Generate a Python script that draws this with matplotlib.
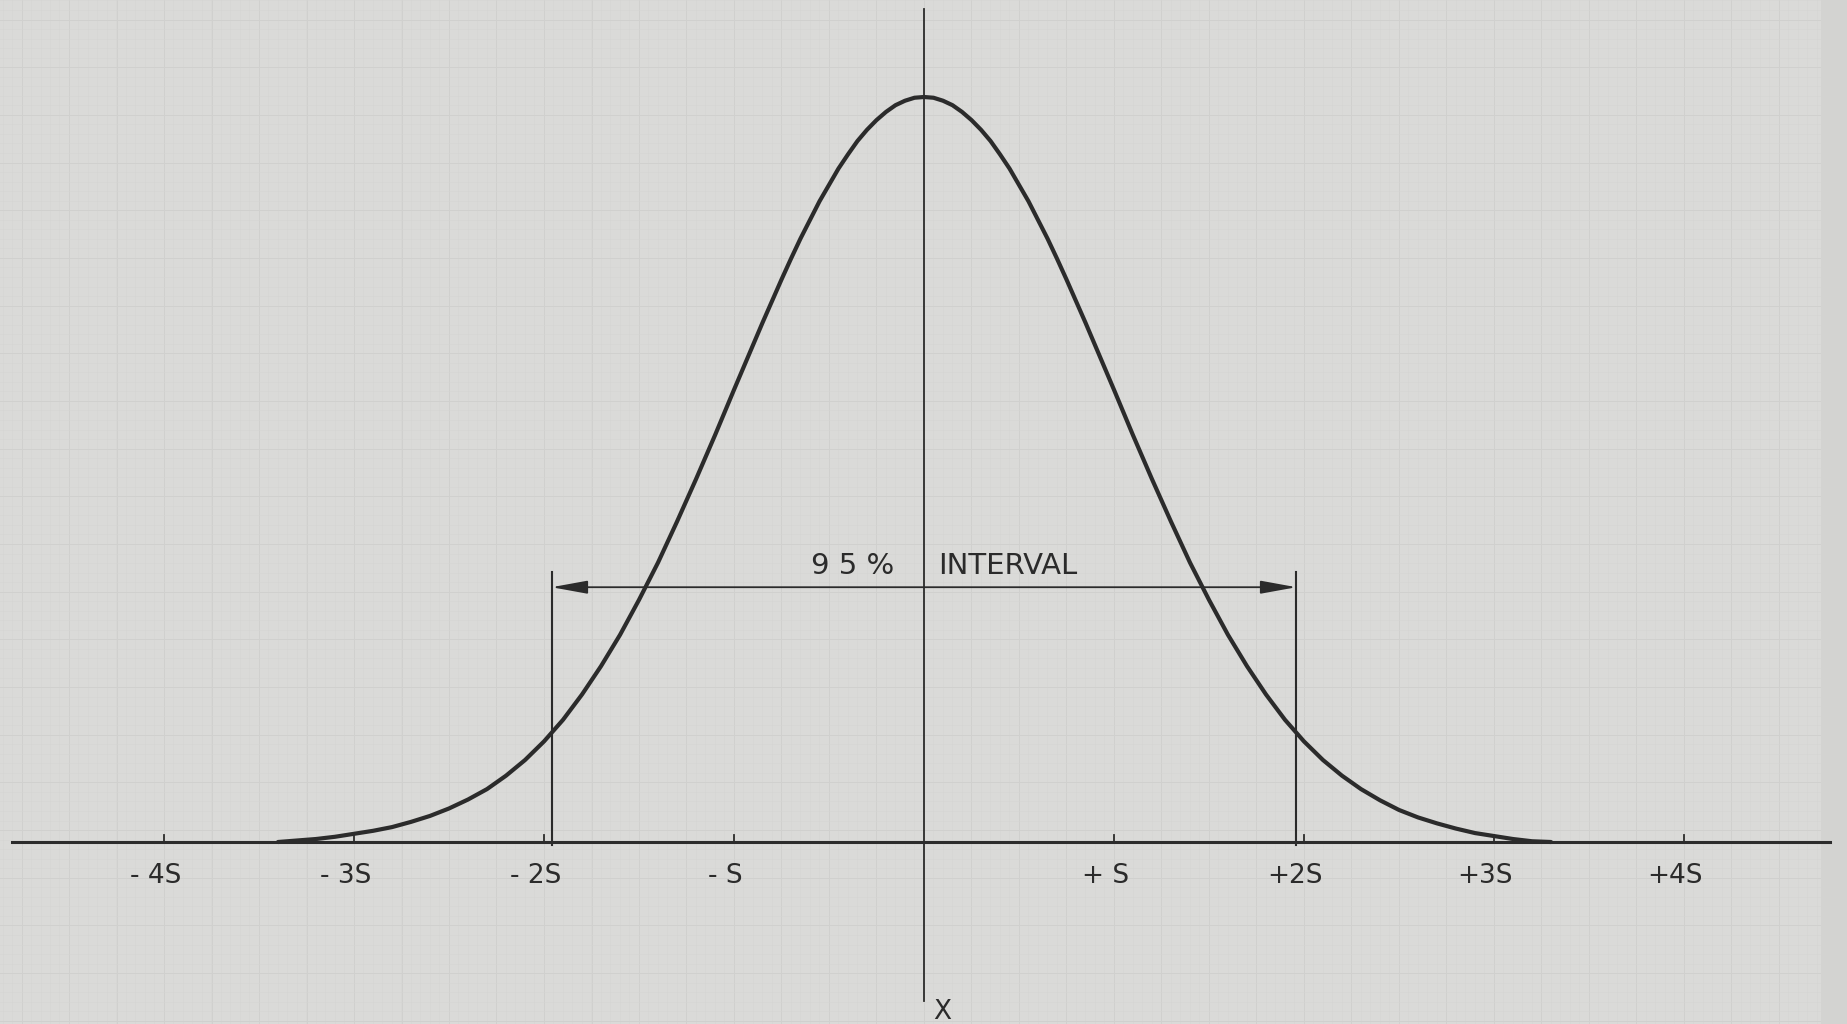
"""Normal curve with 95% interval, redrawn from a scanned sheet of graph paper."""
import numpy as np
import matplotlib.pyplot as plt

# curve: position in units of S, height relative to the peak
curve_x = [-3.4, -3.3, -3.2, -3.1, -3.0, -2.9, -2.8, -2.7, -2.6, -2.5, -2.4, -2.3,
           -2.2, -2.1, -2.0, -1.9, -1.8, -1.7, -1.6, -1.5, -1.4, -1.3, -1.2, -1.1,
           -1.0, -0.95, -0.9, -0.85, -0.8, -0.75, -0.7, -0.65, -0.6, -0.55, -0.5,
           -0.45, -0.4, -0.35, -0.3, -0.25, -0.2, -0.15, -0.1, -0.05, 0.0,
           0.05, 0.1, 0.15, 0.2, 0.25, 0.3, 0.35, 0.4, 0.45, 0.5, 0.55, 0.6, 0.65,
           0.7, 0.75, 0.8, 0.85, 0.9, 0.95, 1.0,
           1.1, 1.2, 1.3, 1.4, 1.5, 1.6, 1.7, 1.8, 1.9, 2.0, 2.1, 2.2, 2.3, 2.4,
           2.5, 2.6, 2.7, 2.8, 2.9, 3.0, 3.1, 3.2, 3.3]
curve_y = [0.000, 0.002, 0.004, 0.007, 0.011, 0.015, 0.020, 0.027, 0.035, 0.045, 0.057, 0.071,
           0.089, 0.110, 0.135, 0.164, 0.198, 0.236, 0.278, 0.325, 0.375, 0.430, 0.487, 0.546,
           0.607, 0.637, 0.667, 0.697, 0.726, 0.755, 0.783, 0.810, 0.835, 0.860, 0.882,
           0.904, 0.923, 0.941, 0.956, 0.969, 0.980, 0.989, 0.995, 0.999, 1.000,
           0.999, 0.995, 0.989, 0.980, 0.969, 0.956, 0.941, 0.923, 0.904, 0.882, 0.860, 0.835, 0.810,
           0.783, 0.755, 0.726, 0.697, 0.667, 0.637, 0.607,
           0.546, 0.487, 0.430, 0.375, 0.325, 0.278, 0.236, 0.198, 0.164, 0.135, 0.110, 0.089, 0.071, 0.056,
           0.043, 0.033, 0.025, 0.018, 0.012, 0.008, 0.004, 0.001, 0.000]

tick_pos = [-4, -3, -2, -1, 1, 2, 3, 4]
tick_labels = ['- 4S', '- 3S', '- 2S', '- S', '+ S', '+2S', '+3S', '+4S']

interval = [-1.96, 1.96]
interval_top = 0.362
arrow_y = 0.342

INK = '#2b2b2b'
PAPER = '#dadad8'

fig = plt.figure(figsize=(18.47, 10.24), dpi=100)
fig.patch.set_facecolor(PAPER)
ax = fig.add_axes([0, 0, 1, 1])
ax.set_facecolor(PAPER)
ax.set_xlim(-924 / 190, 923 / 190)
ax.set_ylim(-182 / 745, 842 / 745)
ax.axis('off')

# faint graph-paper ruling
for gx in np.arange(-4.85, 4.9, 0.05):
    ax.axvline(gx, color='#d5d5d3', lw=0.4, zorder=0)
for gx in np.arange(-4.75, 4.9, 0.25):
    ax.axvline(gx, color='#d0d0ce', lw=0.7, zorder=0)
for gy in np.arange(-0.24, 1.14, 0.0128):
    ax.axhline(gy, color='#d5d5d3', lw=0.4, zorder=0)
for gy in np.arange(-0.24, 1.14, 0.064):
    ax.axhline(gy, color='#d0d0ce', lw=0.7, zorder=0)
# slightly darker edge of the sheet on the right
ax.axvspan(4.72, 4.9, color='#d3d3d1', lw=0, zorder=0.5)

# axes drawn on the sheet
ax.plot([-4.8, 4.77], [0, 0], color=INK, lw=2.2, zorder=2)
ax.plot([0, 0], [-0.213, 1.118], color=INK, lw=1.3, zorder=2)
for p, lab in zip(tick_pos, tick_labels):
    ax.plot([p, p], [0, 0.009], color=INK, lw=1.3, zorder=2)
    ax.text(p - 0.045, -0.046, lab, ha='center', va='center',
            fontsize=19, color=INK, family='DejaVu Sans')
ax.text(0.095, -0.228, 'X', ha='center', va='center', fontsize=19, color=INK)

# the bell curve
ax.plot(curve_x, curve_y, color=INK, lw=3.0, solid_capstyle='round',
        solid_joinstyle='round', zorder=3)

# 95 % interval marks
for xv in interval:
    ax.plot([xv, xv], [-0.004, interval_top], color=INK, lw=1.5, zorder=2)
ax.annotate('', xy=(interval[0], arrow_y), xytext=(interval[1], arrow_y),
            arrowprops=dict(arrowstyle='<|-|>,head_length=1.1,head_width=0.2',
                            mutation_scale=20, color=INK, lw=1.3,
                            shrinkA=0, shrinkB=0), zorder=2)
ax.text(-0.374, 0.370, '9 5 %', ha='center', va='center', fontsize=21, color=INK)
ax.text(0.442, 0.370, 'INTERVAL', ha='center', va='center', fontsize=21, color=INK)

fig.savefig('out.png', dpi=100, facecolor=PAPER)
